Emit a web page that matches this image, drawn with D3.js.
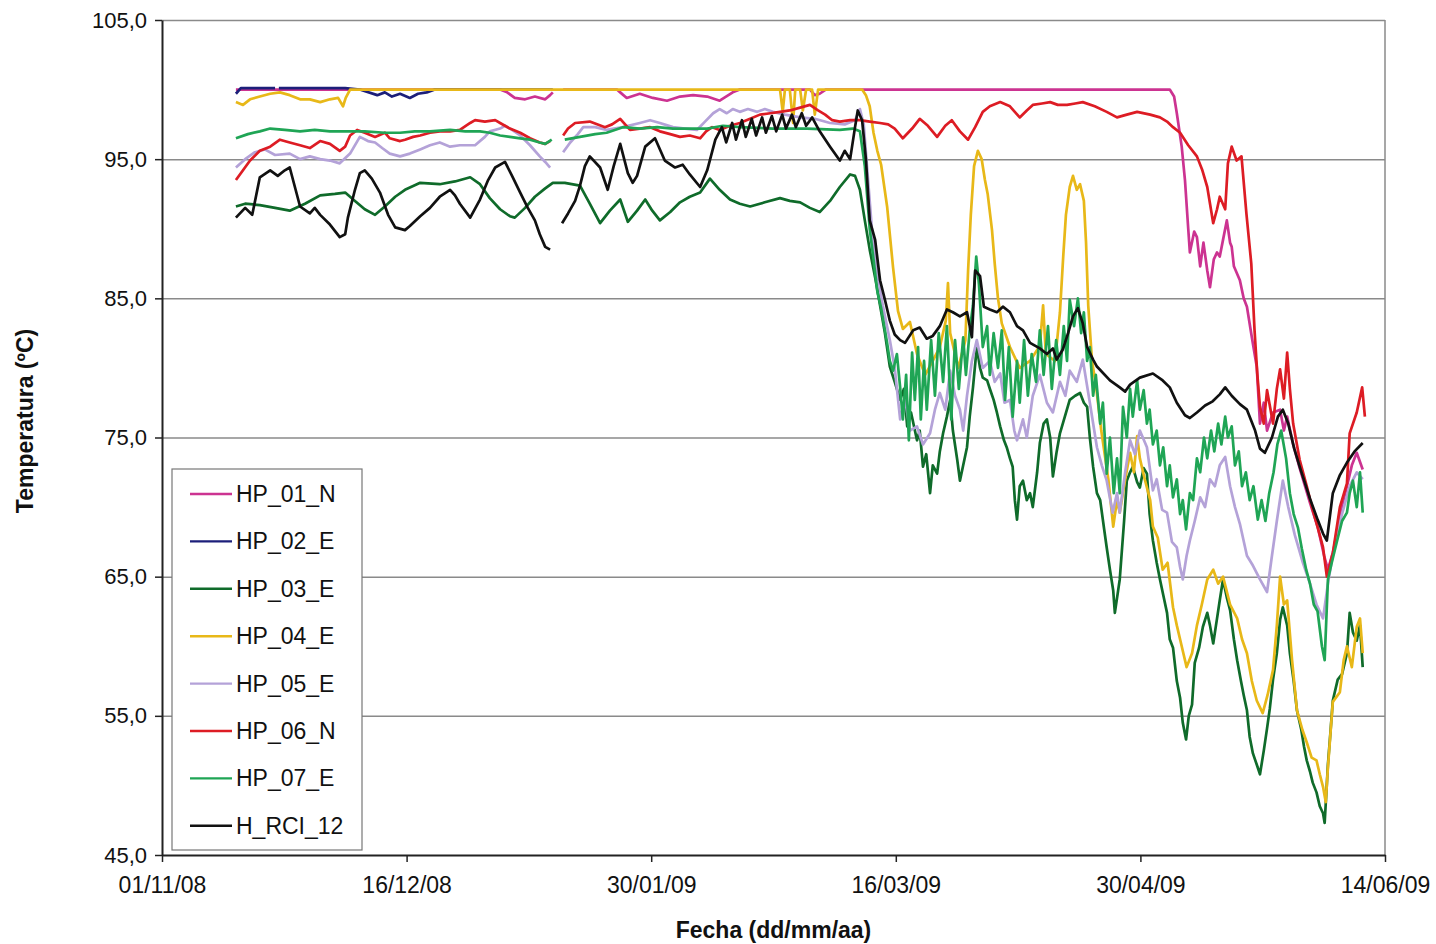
<!DOCTYPE html>
<html>
<head>
<meta charset="utf-8">
<script src="https://cdn.jsdelivr.net/npm/d3@7"></script>
<style>
  html, body { margin: 0; padding: 0; background: #fff; }
  svg { display: block; font-family: "Liberation Sans", Arial, Helvetica, sans-serif; }
</style>
</head>
<body>
<svg id="chart" width="1436" height="944"></svg>
<script>
// Each record: [days since 01/11/2008, temperature in ºC]; null marks a break in the logging.
const hp01n = [[13.6,100],[62.2,100],[63.5,99.8],[64.9,99.4],[66.8,99.3],[68.6,99.5],[70.5,99.3],[71.4,99.6],[71.9,99.8],[72.6,null],[73.8,100],[83.7,100],[84.3,99.8],[85.5,99.4],[87.9,99.7],[90.3,99.4],[92.9,99.2],[95.3,99.5],[97.7,99.6],[100.3,99.5],[102.6,99.2],[105.0,99.8],[106.3,100],[119.2,100],[120.1,99.6],[121.0,99.7],[122.1,100],[185.4,100],[186.2,99.5],[186.7,98.3],[187.6,95.9],[188.2,93.5],[188.8,90.0],[189.1,88.3],[189.9,89.8],[190.4,89.4],[191.0,87.3],[191.6,89.0],[192.3,87.0],[192.8,85.8],[193.5,87.8],[194.1,88.3],[194.6,88.0],[195.2,89.2],[195.9,90.6],[196.5,89.0],[196.8,88.7],[197.2,87.3],[198.3,86.3],[199.0,85.0],[199.6,84.4],[200.5,82.2],[201.4,80.1],[202.0,76.0],[202.7,77.5],[203.3,75.5],[204.4,76.8],[205.7,77.0],[206.4,75.5],[207.0,76.5],[208.1,74.5],[209.3,72.8],[211.2,70.3],[212.6,68.6],[213.8,66.5],[214.5,65.5],[215.6,67.0],[216.7,69.5],[218.0,71.5],[218.9,73.0],[219.8,73.9],[220.9,72.7]];

const hp02e = [[13.6,99.7],[14.5,100.1],[20.8,100.1],[21.2,null],[21.5,100.1],[33.7,100.1],[36.4,100.0],[39.6,99.6],[41.0,99.8],[42.3,99.5],[43.8,99.7],[45.6,99.4],[47.1,99.7],[48.7,99.8],[50.2,100],[71.9,100]];

const hp03e = [[13.6,91.6],[15.3,91.8],[18.0,91.7],[20.8,91.5],[23.5,91.3],[26.3,91.8],[29.1,92.4],[31.8,92.5],[33.7,92.6],[35.5,92.0],[37.3,91.4],[39.2,91.0],[41.0,91.6],[42.9,92.3],[44.7,92.8],[47.5,93.3],[51.1,93.2],[53.9,93.4],[56.7,93.7],[58.5,93.2],[60.3,92.2],[62.2,91.4],[64.0,90.9],[64.9,90.8],[66.8,91.5],[68.6,92.3],[70.5,92.9],[71.9,93.3],[74.1,93.3],[76.9,93.1],[78.7,91.8],[80.6,90.4],[82.4,91.3],[84.3,92.1],[85.7,90.5],[87.4,91.3],[88.9,92.1],[90.2,91.3],[91.6,90.6],[93.5,91.2],[95.3,91.9],[97.1,92.3],[99.0,92.6],[100.8,93.6],[102.6,92.8],[104.5,92.1],[106.3,91.8],[108.2,91.6],[110.9,91.9],[113.7,92.2],[115.5,92.0],[117.4,91.9],[119.2,91.5],[121.0,91.2],[122.9,92.0],[124.7,93.0],[126.6,93.9],[127.5,93.8],[128.4,92.8],[129.3,90.6],[130.2,88.5],[131.2,86.5],[132.1,84.5],[133.0,82.5],[133.9,80.1],[134.8,79.0],[135.8,77.7],[136.5,78.5],[137.1,75.8],[137.8,76.8],[138.9,74.8],[139.4,75.5],[140.0,72.9],[140.6,73.8],[141.3,71.0],[141.8,73.0],[142.6,72.4],[143.1,74.0],[143.7,75.3],[144.4,76.5],[145.0,77.7],[145.5,75.5],[146.3,73.4],[146.8,71.9],[147.4,73.0],[148.1,74.3],[148.6,76.5],[149.2,78.6],[149.9,81.5],[150.5,80.0],[151.0,79.3],[151.8,79.1],[152.3,78.5],[153.0,77.7],[153.6,76.8],[154.2,75.8],[154.9,74.8],[155.4,74.3],[156.0,73.5],[156.5,72.9],[156.9,70.5],[157.3,69.1],[157.8,71.5],[158.4,71.9],[159.1,70.5],[159.7,71.0],[160.2,70.0],[161.0,72.5],[161.5,74.6],[162.2,76.0],[162.8,76.3],[163.4,75.0],[163.9,72.2],[164.6,74.0],[165.2,75.3],[166.1,76.5],[167.0,77.7],[168.0,78.0],[168.9,78.2],[169.6,77.5],[170.2,77.2],[170.7,75.0],[171.3,72.9],[172.0,71.0],[172.6,70.5],[173.3,68.5],[173.8,67.1],[174.4,65.5],[175.0,64.0],[175.3,62.4],[175.9,64.0],[176.2,64.8],[177.0,69.0],[177.5,71.9],[178.1,72.5],[178.6,72.9],[179.4,71.8],[179.9,71.4],[180.6,72.8],[181.2,72.4],[181.7,69.5],[182.3,67.6],[183.0,66.0],[183.6,64.8],[184.3,63.5],[184.9,62.4],[185.4,60.5],[186.0,59.9],[186.7,57.5],[187.3,56.3],[187.8,54.5],[188.4,53.3],[188.9,55.0],[189.5,55.8],[190.0,58.8],[190.8,59.9],[191.5,61.4],[192.3,62.4],[192.8,61.5],[193.4,60.2],[194.1,62.0],[194.6,63.3],[195.2,64.8],[195.9,63.5],[196.5,62.6],[197.2,60.5],[197.8,59.0],[198.5,57.5],[199.0,56.5],[199.6,55.4],[200.1,53.5],[200.7,52.3],[201.4,51.5],[202.0,50.8],[202.7,52.5],[203.3,54.1],[203.8,55.5],[204.4,57.6],[205.1,59.5],[205.7,61.9],[206.2,62.8],[207.0,61.5],[207.5,59.5],[208.2,57.5],[208.8,55.4],[209.6,54.0],[210.1,52.8],[210.6,51.8],[211.2,51.0],[211.7,50.2],[212.4,49.5],[213.0,48.5],[213.6,48.0],[213.9,47.3],[214.5,51.5],[215.0,54.0],[215.4,56.1],[216.3,57.6],[217.1,58.0],[218.0,59.5],[218.5,62.4],[219.1,61.0],[219.8,60.4],[220.4,61.5],[220.9,58.5]];

const hp04e = [[13.6,99.1],[14.9,98.9],[16.2,99.3],[18.0,99.5],[19.9,99.7],[21.7,99.8],[23.5,99.6],[25.4,99.3],[27.2,99.3],[29.1,99.1],[30.9,99.3],[32.4,99.4],[33.3,98.8],[33.8,99.4],[34.6,100],[113.7,100],[114.2,98.4],[114.6,100],[115.5,100],[116.1,97.6],[116.5,100],[117.4,100],[117.9,98.5],[118.5,100],[119.6,100],[120.1,98.2],[120.7,100],[128.8,100],[129.5,99.6],[130.2,98.8],[130.9,96.9],[131.6,95.6],[132.3,94.6],[133.4,91.6],[134.5,87.2],[135.4,84.1],[136.3,82.8],[137.6,83.3],[138.9,81.0],[140.4,79.5],[141.8,80.5],[143.1,81.5],[144.2,83.4],[144.6,86.1],[145.0,82.5],[146.5,80.0],[147.8,82.0],[148.3,87.0],[148.8,91.0],[149.4,94.5],[150.1,95.6],[150.8,95.0],[151.4,93.5],[151.9,92.5],[152.7,89.9],[153.2,87.5],[153.8,85.0],[154.5,83.2],[156.0,81.5],[157.8,80.0],[159.7,80.5],[161.5,81.6],[162.1,84.5],[162.6,81.0],[164.3,80.5],[165.2,84.0],[165.8,88.0],[166.3,91.0],[167.0,93.0],[167.6,93.8],[168.3,92.8],[168.9,93.2],[169.6,92.0],[170.0,89.0],[170.4,84.5],[171.1,80.5],[171.9,78.5],[172.8,75.5],[174.1,72.0],[175.0,68.6],[175.7,70.5],[176.2,69.6],[177.2,72.0],[178.1,73.9],[178.8,72.5],[179.4,75.1],[179.9,73.5],[180.8,72.0],[181.8,70.5],[182.3,68.6],[183.2,67.8],[184.1,65.5],[185.0,66.0],[186.0,62.8],[186.7,61.5],[187.6,60.0],[188.5,58.5],[189.5,59.5],[190.4,61.5],[191.3,63.0],[192.3,64.8],[193.4,65.5],[194.3,64.5],[195.2,65.0],[196.5,63.0],[197.8,62.0],[198.7,60.5],[199.6,59.5],[200.5,57.5],[201.4,56.1],[202.5,55.2],[203.4,56.5],[204.4,58.3],[205.1,61.5],[205.7,65.0],[206.4,63.0],[207.0,63.3],[207.9,59.0],[208.8,55.4],[209.8,54.0],[210.6,53.1],[211.5,52.0],[212.4,51.8],[213.0,50.8],[213.6,49.9],[214.1,48.8],[214.5,51.3],[215.4,56.0],[216.7,56.7],[217.4,59.0],[218.0,60.0],[218.9,58.5],[219.8,61.4],[220.4,62.0],[220.9,59.5]];

const hp05e = [[13.6,94.4],[15.3,95.0],[17.1,95.5],[18.9,95.7],[20.8,95.3],[23.5,95.4],[25.4,95.0],[27.2,95.2],[29.1,95.0],[30.9,94.9],[32.7,94.7],[34.6,95.4],[36.4,96.6],[37.9,96.3],[39.2,96.2],[40.5,95.8],[41.9,95.4],[43.8,95.2],[45.6,95.4],[47.5,95.7],[49.3,96.0],[51.1,96.2],[53.0,95.9],[54.8,96.0],[57.6,96.0],[59.4,96.6],[60.3,97.0],[62.2,97.2],[63.1,97.4],[64.4,97.1],[65.9,96.7],[67.7,96.0],[69.5,95.2],[70.5,94.8],[71.4,94.4],[72.6,null],[73.8,95.5],[75.1,96.2],[76.5,96.8],[77.5,97.3],[79.7,97.3],[81.8,97.1],[84.8,97.3],[87.9,97.6],[89.8,97.8],[91.6,97.6],[94.0,97.3],[96.2,97.2],[98.4,97.1],[99.9,97.7],[101.4,98.3],[102.6,98.6],[103.9,98.3],[105.0,98.6],[106.3,98.4],[107.8,98.6],[109.5,98.4],[110.9,98.6],[112.4,98.4],[114.6,98.2],[117.4,98.0],[120.1,97.9],[122.9,97.6],[125.6,97.5],[127.5,97.8],[128.4,98.6],[129.1,97.5],[129.8,94.0],[130.6,90.0],[131.5,87.0],[132.6,84.5],[133.9,82.0],[134.8,80.0],[135.8,76.3],[136.7,77.8],[137.6,75.5],[138.9,75.8],[140.0,74.5],[141.3,75.3],[142.2,77.0],[143.1,78.2],[144.1,77.0],[145.0,79.8],[145.9,78.0],[146.8,77.0],[147.4,75.5],[148.1,78.0],[149.0,80.5],[149.9,82.0],[151.0,80.0],[152.3,80.5],[153.2,79.0],[154.2,79.6],[155.0,77.5],[156.0,77.7],[156.8,75.5],[157.3,74.8],[158.4,76.3],[159.1,75.0],[160.2,78.0],[161.5,79.5],[162.8,77.5],[163.9,76.8],[165.2,79.0],[166.2,78.0],[167.0,79.8],[168.3,79.0],[169.4,80.6],[170.7,77.5],[172.0,74.3],[172.9,73.0],[173.8,71.9],[174.9,69.6],[175.7,71.0],[176.2,69.6],[177.2,72.5],[178.1,74.8],[179.0,73.8],[179.9,75.5],[181.2,74.3],[182.3,71.2],[183.0,72.0],[184.0,69.8],[184.9,69.6],[185.8,67.5],[186.7,67.1],[187.3,65.7],[187.8,64.8],[188.5,66.5],[189.1,67.6],[190.0,69.0],[191.0,70.7],[191.9,70.0],[192.8,72.0],[193.7,71.5],[194.6,73.0],[195.6,73.6],[196.5,71.5],[197.4,70.0],[198.3,68.8],[199.6,66.5],[200.7,65.8],[202.0,64.8],[203.3,63.9],[204.2,66.5],[205.1,69.0],[206.2,71.9],[207.2,70.0],[208.4,68.0],[209.9,66.0],[211.2,64.5],[212.4,63.0],[213.6,62.0],[214.5,64.5],[215.8,67.5],[217.1,69.5],[218.5,71.5],[219.8,72.5],[220.9,72.0]];

const hp06n = [[13.6,93.5],[14.9,94.2],[16.2,94.9],[18.0,95.6],[19.9,95.9],[21.7,96.4],[23.5,96.2],[25.4,96.0],[27.2,95.8],[29.1,96.3],[30.9,96.1],[32.7,95.6],[33.7,95.9],[34.6,96.7],[35.9,97.1],[37.3,96.9],[39.2,96.6],[41.0,96.9],[41.9,96.5],[43.8,96.3],[44.7,96.4],[46.2,96.6],[47.5,96.7],[49.3,96.9],[51.1,97.0],[53.0,97.0],[54.8,97.1],[56.7,97.6],[57.6,97.8],[59.4,97.7],[61.3,97.8],[62.2,97.6],[64.0,97.2],[65.9,96.9],[67.7,96.5],[69.5,96.2],[70.5,96.1],[71.4,96.3],[72.6,null],[73.8,96.7],[74.7,97.2],[76.0,97.6],[78.7,97.7],[81.5,97.3],[82.8,97.5],[84.3,97.9],[86.1,97.1],[87.9,97.2],[89.8,97.3],[91.6,97.0],[93.5,96.8],[95.3,96.6],[97.1,96.7],[99.0,96.5],[100.1,97.0],[101.2,97.3],[102.6,97.1],[104.5,97.4],[106.3,97.6],[108.2,97.9],[110.0,98.2],[111.9,98.3],[113.7,98.4],[115.5,98.5],[117.4,98.7],[119.2,98.9],[120.7,98.5],[122.0,98.2],[123.3,97.8],[124.7,97.7],[126.6,97.8],[128.4,97.8],[130.2,97.7],[132.1,97.6],[133.6,97.5],[134.8,97.2],[136.3,96.5],[138.0,97.2],[139.4,97.9],[140.9,97.4],[142.6,96.6],[144.1,97.4],[145.3,97.8],[146.8,97.0],[148.3,96.4],[149.6,97.3],[151.0,98.4],[152.3,98.8],[154.2,99.1],[156.0,98.8],[157.8,98.0],[159.1,98.5],[160.2,98.9],[161.9,99.0],[163.4,99.1],[164.8,98.9],[166.5,98.9],[168.0,99.0],[169.4,99.1],[171.6,98.8],[173.8,98.4],[175.7,98.0],[177.5,98.2],[179.4,98.4],[181.8,98.2],[183.6,98.0],[184.9,97.7],[186.0,97.3],[187.3,96.9],[188.8,96.0],[190.4,95.2],[191.4,94.2],[192.3,93.0],[193.4,90.4],[194.1,91.4],[194.6,92.3],[195.6,91.4],[196.1,94.7],[196.8,95.9],[197.7,94.9],[198.6,95.2],[199.5,91.1],[200.4,87.5],[201.0,82.7],[201.5,79.6],[202.0,77.2],[202.7,76.0],[203.3,78.4],[204.4,76.0],[205.1,78.5],[205.7,79.9],[206.4,77.8],[207.0,81.1],[207.5,78.5],[208.1,76.0],[209.3,73.4],[210.6,71.5],[211.7,69.8],[213.0,68.0],[213.6,67.1],[214.3,65.0],[215.4,66.7],[216.7,70.0],[218.0,71.7],[218.5,75.3],[219.8,76.8],[220.8,78.6],[221.3,76.5]];

const hp07e = [[13.6,96.5],[15.8,96.8],[18.0,97.0],[19.9,97.2],[22.6,97.1],[25.4,97.0],[28.1,97.1],[30.9,97.0],[34.6,97.0],[37.3,97.0],[41.0,96.9],[43.8,96.9],[46.5,97.0],[49.3,97.0],[53.0,97.1],[55.8,97.0],[58.5,97.0],[60.3,96.9],[62.2,96.7],[64.0,96.6],[65.9,96.5],[67.7,96.4],[69.5,96.2],[70.5,96.1],[71.7,96.4],[72.6,null],[74.1,96.4],[76.9,96.6],[79.7,96.8],[81.8,96.9],[84.8,97.3],[87.9,97.2],[91.1,97.3],[94.0,97.2],[97.1,97.2],[100.3,97.2],[103.2,97.4],[106.3,97.3],[112.4,97.2],[118.7,97.2],[124.7,97.1],[127.1,97.2],[128.4,97.0],[129.3,94.5],[130.2,90.0],[130.9,87.8],[131.6,85.5],[132.3,84.3],[133.4,81.8],[133.9,80.5],[134.5,79.8],[135.2,81.0],[135.8,78.6],[136.3,76.3],[136.9,79.5],[137.4,74.8],[138.0,81.1],[138.5,77.7],[139.1,81.5],[139.6,76.3],[140.2,80.5],[140.7,77.0],[141.5,82.0],[142.2,78.0],[142.9,82.5],[143.7,79.0],[144.4,83.0],[145.2,76.3],[145.9,82.0],[146.6,78.5],[147.4,82.2],[147.9,79.5],[148.6,82.7],[149.2,84.5],[149.8,88.0],[150.3,86.0],[151.0,81.5],[151.8,83.0],[152.3,79.5],[153.0,82.5],[153.8,80.0],[154.5,82.7],[155.1,77.7],[155.8,81.5],[156.5,76.5],[157.3,80.5],[157.8,77.5],[158.6,82.0],[159.3,78.0],[160.0,81.0],[160.8,79.0],[161.5,82.7],[162.2,79.5],[163.0,83.0],[163.7,78.5],[164.5,82.0],[165.2,79.5],[165.9,83.0],[166.5,80.5],[167.0,84.9],[167.8,83.0],[168.5,85.0],[169.1,82.5],[169.6,84.0],[170.2,80.5],[170.7,81.5],[171.3,78.0],[171.8,79.5],[172.6,76.0],[173.1,77.5],[173.8,72.4],[174.4,75.0],[175.1,71.0],[175.7,73.5],[176.2,71.0],[176.8,77.2],[177.5,75.0],[178.1,78.5],[178.6,76.5],[179.4,79.1],[179.9,77.0],[180.6,78.4],[181.2,76.0],[181.7,77.0],[182.3,74.5],[183.0,75.5],[183.6,73.0],[184.2,74.3],[184.9,71.5],[185.4,73.0],[186.0,70.7],[186.7,72.0],[187.3,69.5],[187.8,70.5],[188.4,68.4],[189.1,71.0],[189.7,70.5],[190.4,73.5],[191.0,72.5],[191.7,75.0],[192.3,73.5],[193.0,75.5],[193.6,74.0],[194.3,76.0],[194.9,74.5],[195.6,76.5],[196.1,75.0],[196.8,75.8],[197.4,73.0],[198.1,74.0],[198.7,71.5],[199.4,72.5],[200.1,70.5],[200.8,71.5],[201.6,69.1],[202.3,70.5],[203.0,69.0],[203.7,71.0],[204.5,72.5],[205.2,74.5],[205.9,75.5],[206.8,73.5],[207.5,71.0],[208.2,69.5],[209.0,68.5],[209.7,67.0],[210.5,65.5],[211.2,64.5],[211.9,63.0],[212.6,62.5],[213.4,60.0],[213.9,59.0],[214.5,64.8],[215.2,66.0],[216.2,67.6],[217.1,69.0],[218.0,69.6],[218.5,71.0],[219.1,71.9],[219.8,70.0],[220.4,72.5],[220.9,69.6]];

const hrci12 = [[13.6,90.8],[15.3,91.5],[16.6,91.0],[18.0,93.7],[19.9,94.2],[21.3,93.8],[22.6,94.2],[23.5,94.4],[25.4,91.6],[27.2,91.1],[28.1,91.5],[29.1,91.0],[30.9,90.3],[32.7,89.4],[33.7,89.6],[34.2,90.8],[35.5,92.8],[36.4,94.0],[37.3,94.2],[38.6,93.6],[40.1,92.6],[41.6,91.0],[42.9,90.1],[44.7,89.9],[45.6,90.2],[47.5,90.9],[49.3,91.5],[51.1,92.3],[53.0,92.8],[53.9,92.4],[54.8,91.8],[56.7,90.8],[58.5,92.1],[60.0,93.5],[61.3,94.4],[63.1,94.8],[64.4,93.8],[65.9,92.6],[67.3,91.5],[68.6,90.6],[69.5,89.6],[70.5,88.7],[71.4,88.5],[72.6,null],[73.6,90.4],[74.7,91.1],[76.0,92.0],[76.9,93.1],[77.8,94.5],[78.7,95.2],[80.6,94.4],[82.0,92.8],[83.1,94.5],[84.3,96.1],[85.7,94.0],[86.6,93.3],[87.4,93.8],[88.9,95.9],[90.7,96.5],[92.5,94.9],[94.4,94.4],[95.8,94.6],[97.1,93.9],[99.0,93.0],[100.3,94.2],[101.8,96.4],[103.0,97.3],[103.8,96.2],[104.9,97.6],[105.6,96.4],[106.7,97.8],[107.4,96.6],[108.5,97.9],[109.3,96.7],[110.4,98.0],[111.1,96.9],[112.2,98.1],[113.0,97.0],[114.1,98.2],[114.8,97.2],[115.9,98.2],[116.6,97.3],[117.7,98.3],[118.5,97.4],[119.6,98.0],[121.0,97.0],[122.9,95.9],[124.7,94.9],[125.6,95.6],[126.6,95.0],[127.5,97.3],[128.0,98.5],[128.8,97.8],[129.5,95.0],[130.2,90.6],[131.2,89.2],[132.1,86.3],[133.0,84.9],[133.9,83.4],[134.8,82.4],[135.8,82.0],[136.7,81.8],[138.2,82.7],[139.4,82.9],[140.7,82.1],[141.8,82.3],[143.1,83.0],[144.4,84.2],[145.5,84.0],[146.8,83.7],[148.1,84.0],[149.0,82.2],[149.6,87.0],[150.5,86.6],[151.2,84.4],[152.3,84.2],[153.6,84.0],[154.7,84.4],[156.0,84.0],[157.3,83.0],[158.4,82.7],[159.7,81.8],[161.5,81.4],[162.8,81.0],[163.9,81.4],[164.6,80.6],[165.7,81.3],[166.7,82.5],[167.6,83.7],[168.5,84.3],[169.4,83.2],[170.2,81.5],[171.3,80.6],[172.0,80.1],[174.4,79.1],[176.2,78.6],[177.2,78.3],[178.1,78.8],[179.9,79.3],[182.3,79.6],[184.1,79.1],[185.4,78.6],[186.7,77.5],[188.2,76.6],[189.1,76.4],[190.4,76.8],[191.9,77.3],[193.3,77.6],[194.6,78.1],[195.6,78.6],[196.8,78.0],[198.3,77.4],[199.6,77.0],[201.1,75.5],[202.0,74.2],[202.9,73.9],[204.2,75.0],[205.3,76.5],[206.2,77.0],[207.2,76.0],[208.3,74.2],[209.3,72.9],[211.2,70.6],[212.6,69.1],[213.6,68.1],[214.3,67.6],[215.4,71.0],[216.7,72.3],[218.0,73.2],[219.4,74.0],[220.9,74.6]];

const seriesNames  = ["HP_01_N", "HP_02_E", "HP_03_E", "HP_04_E", "HP_05_E", "HP_06_N", "HP_07_E", "H_RCI_12"];
const seriesData   = [hp01n, hp02e, hp03e, hp04e, hp05e, hp06n, hp07e, hrci12];
const seriesColors = ["#cc3391", "#1c1f7a", "#0f6b2a", "#e8b818", "#b4a2d8", "#dd1c24", "#1fa555", "#111111"];

const xTickDays = [0, 45, 90, 135, 180, 225];
const yTicks = [45, 55, 65, 75, 85, 95, 105];

// ---- layout ----
const svg = d3.select("#chart");
const plot = { left: 162, right: 1385, top: 20, bottom: 855 };
const origin = Date.UTC(2008, 10, 1);
const toDate = d => new Date(origin + d * 864e5);

const x = d3.scaleUtc()
  .domain([toDate(0), toDate(225)])
  .range([plot.left, plot.right]);
const y = d3.scaleLinear()
  .domain([45, 105])
  .range([plot.bottom, plot.top]);

// horizontal gridlines and frame
svg.append("g")
  .attr("transform", `translate(${plot.left},0)`)
  .call(d3.axisLeft(y).tickValues(yTicks.slice(1)).tickSize(-(plot.right - plot.left)).tickFormat(""))
  .call(g => g.select(".domain").remove())
  .call(g => g.selectAll("line").attr("stroke", "#8a8a8a").attr("stroke-width", 1.5));
svg.append("line")
  .attr("x1", plot.right).attr("x2", plot.right)
  .attr("y1", plot.top).attr("y2", plot.bottom)
  .attr("stroke", "#8a8a8a").attr("stroke-width", 1.5);

// series lines, first series at the bottom
const line = d3.line()
  .defined(d => d[1] !== null)
  .x(d => x(toDate(d[0])))
  .y(d => y(d[1]));

svg.append("g")
  .selectAll("path")
  .data(seriesData)
  .join("path")
  .attr("d", line)
  .attr("fill", "none")
  .attr("stroke", (d, i) => seriesColors[i])
  .attr("stroke-width", 2.7)
  .attr("stroke-linejoin", "round");

// axes
const fontStack = "'Liberation Sans', Arial, sans-serif";
const yAxis = svg.append("g")
  .attr("transform", `translate(${plot.left},0)`)
  .call(d3.axisLeft(y).tickValues(yTicks).tickSize(7).tickSizeOuter(0).tickPadding(8)
    .tickFormat(v => v.toFixed(1).replace(".", ",")));
yAxis.select(".domain").attr("stroke", "#222").attr("stroke-width", 2);
yAxis.selectAll(".tick line").attr("stroke", "#222").attr("stroke-width", 1.5);
yAxis.selectAll("text").attr("font-size", 22).attr("fill", "#111").attr("font-family", fontStack);

const xAxis = svg.append("g")
  .attr("transform", `translate(0,${plot.bottom})`)
  .call(d3.axisBottom(x).tickValues(xTickDays.map(toDate)).tickSize(7).tickSizeOuter(0).tickPadding(15)
    .tickFormat(d3.utcFormat("%d/%m/%y")));
xAxis.select(".domain").attr("stroke", "#222").attr("stroke-width", 2);
xAxis.selectAll(".tick line").attr("stroke", "#222").attr("stroke-width", 1.5);
xAxis.selectAll("text").attr("font-size", 23).attr("fill", "#111").attr("font-family", fontStack);

// axis titles
svg.append("text")
  .attr("x", (plot.left + plot.right) / 2)
  .attr("y", 938)
  .attr("text-anchor", "middle")
  .attr("font-size", 23).attr("font-weight", "bold").attr("fill", "#111")
  .text("Fecha (dd/mm/aa)");
svg.append("text")
  .attr("transform", "translate(33,421) rotate(-90)")
  .attr("text-anchor", "middle")
  .attr("font-size", 23).attr("font-weight", "bold").attr("fill", "#111")
  .text("Temperatura (ºC)");

// legend
const legend = svg.append("g").attr("transform", "translate(172,469)");
legend.append("rect")
  .attr("width", 190).attr("height", 381)
  .attr("fill", "#fff").attr("stroke", "#777").attr("stroke-width", 1.2);
const item = legend.selectAll("g.item")
  .data(seriesNames)
  .join("g")
  .attr("class", "item")
  .attr("transform", (d, i) => `translate(0,${25 + i * 47.4})`);
item.append("line")
  .attr("x1", 18).attr("x2", 60)
  .attr("stroke", (d, i) => seriesColors[i]).attr("stroke-width", 2.4);
item.append("text")
  .attr("x", 64).attr("y", 8)
  .attr("font-size", 23).attr("fill", "#111")
  .text(d => d);
</script>
</body>
</html>
